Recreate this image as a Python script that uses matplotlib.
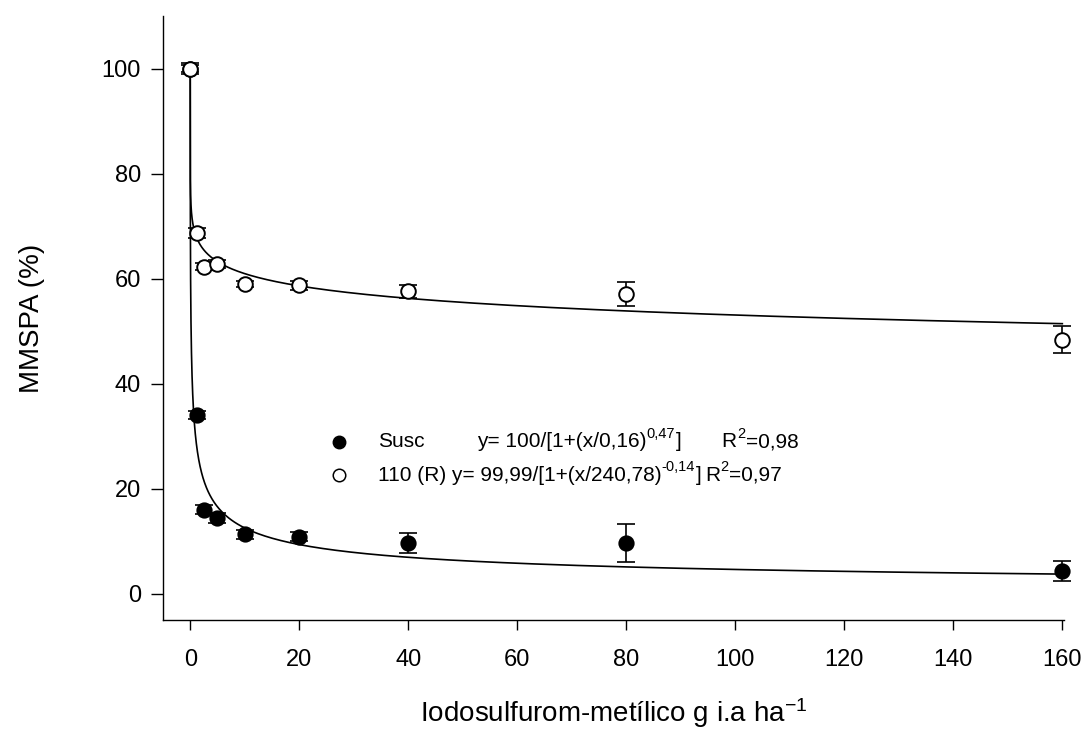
import numpy as np
import matplotlib
matplotlib.use("Agg")
import matplotlib.pyplot as plt

# doses (g i.a ha-1) and MMSPA (%)
doses = [0, 1.25, 2.5, 5, 10, 20, 40, 80, 160]
susc_mean = [100, 34.0, 16.0, 14.4, 11.3, 10.9, 9.7, 9.6, 4.4]
susc_err = [0.6, 0.8, 0.9, 1.0, 0.9, 0.8, 1.9, 3.6, 1.9]
r_mean = [100, 68.7, 62.3, 62.8, 59.0, 58.7, 57.6, 57.0, 48.4]
r_err = [1.0, 0.9, 0.6, 0.8, 0.6, 0.9, 1.2, 2.3, 2.6]

# fitted log-logistic parameters (a, c, b): y = a / (1 + (x/c)^b)
susc_fit = (100.0, 0.16, 0.47)
r_fit = (99.99, 240.78, 0.14)

plt.rcParams["font.family"] = ["Liberation Sans", "DejaVu Sans"]
plt.rcParams["mathtext.default"] = "regular"


def loglogistic(x, a, c, b):
    return a / (1 + (x / c) ** b)


def chain_text(ax, x, y, pieces, fs=15, sfs=10.5):
    # write pieces one after another, (text, is_superscript)
    first = ax.text(x, y, pieces[0][0], fontsize=fs, va="center",
                    transform=ax.transAxes)
    base = first
    prev = first
    for s, sup in pieces[1:]:
        if sup:
            t = ax.annotate(s, xy=(1, 1), xycoords=(prev, base),
                            xytext=(0.3, 3.8), textcoords="offset points",
                            fontsize=sfs, va="top", ha="left")
        else:
            t = ax.annotate(s, xy=(1, 0), xycoords=(prev, base),
                            xytext=(0.3, 0), textcoords="offset points",
                            fontsize=fs, va="bottom", ha="left")
            base = t
        prev = t


def main():
    fig = plt.figure(figsize=(10.88, 7.31), dpi=100)
    ax = fig.add_axes([0.1498, 0.1518, 0.8281, 0.8263])

    xs = np.concatenate([[0], np.geomspace(1e-4, 160, 600)])
    ax.plot(xs, loglogistic(xs, *susc_fit), color="black", lw=1.2, zorder=2)
    ax.plot(xs, loglogistic(xs, *r_fit), color="black", lw=1.2, zorder=2)

    for mean, err in [(susc_mean, susc_err), (r_mean, r_err)]:
        ax.errorbar(doses, mean, yerr=err, fmt="none", ecolor="black",
                    elinewidth=1.2, capsize=6.8, capthick=1.2, zorder=3,
                    clip_on=False)

    ax.plot(doses, susc_mean, "o", ms=10.5, mfc="black", mec="black",
            mew=1.2, zorder=4, clip_on=False)
    ax.plot(doses, r_mean, "o", ms=10.5, mfc="white", mec="black",
            mew=1.4, zorder=5, clip_on=False)

    ax.set_xlim(-5, 160.3)
    ax.set_ylim(-5, 110)
    ax.set_xticks(range(0, 161, 20))
    ax.set_yticks(range(0, 101, 20))
    for side in ["top", "right"]:
        ax.spines[side].set_visible(False)
    for side in ["left", "bottom"]:
        ax.spines[side].set_linewidth(1.0)
    ax.tick_params(axis="x", direction="out", length=7, width=1.0,
                   labelsize=17, pad=14)
    ax.tick_params(axis="y", direction="out", length=9, width=1.0,
                   labelsize=17, pad=7)

    ax.set_xlabel("Iodosulfurom-metílico g i.a ha$^{-1}$", fontsize=20)
    ax.xaxis.label.set_va("baseline")
    ax.xaxis.set_label_coords(0.5, -0.1695)
    ax.set_ylabel("MMSPA (%)", fontsize=20)
    ax.yaxis.label.set_va("center")
    ax.yaxis.set_label_coords(-0.1454, 0.5)

    # legend drawn by hand
    y1, y2 = 0.2952, 0.240
    ax.plot([0.1953], [y1], "o", ms=9, mfc="black", mec="black",
            transform=ax.transAxes, clip_on=False)
    ax.plot([0.1953], [y2], "o", ms=9, mfc="white", mec="black", mew=1.1,
            transform=ax.transAxes, clip_on=False)
    ax.text(0.2383, y1, "Susc", fontsize=15, va="center",
            transform=ax.transAxes)
    chain_text(ax, 0.3482, y1, [("y= 100/[1+(x/0,16)", False),
                                ("0,47", True), ("]", False)])
    chain_text(ax, 0.620, y1, [("R", False), ("2", True), ("=0,98", False)])
    chain_text(ax, 0.2383, y2, [("110 (R) y= 99,99/[1+(x/240,78)", False),
                                ("-0,14", True), ("]", False)])
    chain_text(ax, 0.6015, y2, [("R", False), ("2", True), ("=0,97", False)])

    fig.savefig("out.png", dpi=100)


if __name__ == "__main__":
    main()
